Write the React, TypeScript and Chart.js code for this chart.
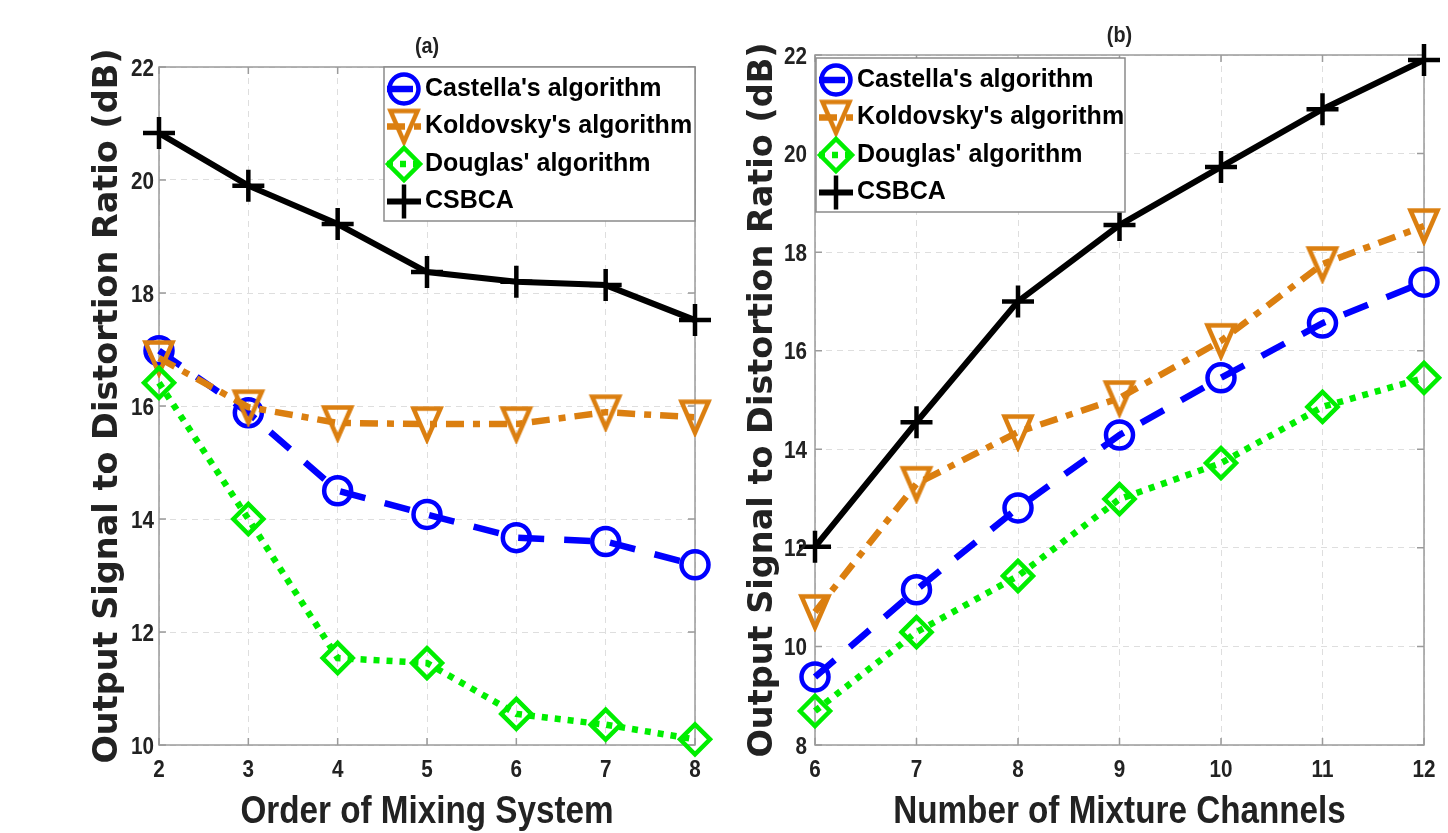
import React, { useEffect, useRef } from 'react';
import { Chart, registerables } from 'chart.js';
import { drawPoint } from 'chart.js/helpers';

Chart.register(...registerables);

// ---------- data ----------
const xTicksA = [2, 3, 4, 5, 6, 7, 8];
const castellaA = [16.98, 15.88, 14.5, 14.08, 13.67, 13.6, 13.19];
const koldovskyA = [16.85, 15.98, 15.7, 15.68, 15.68, 15.89, 15.8];
const douglasA = [16.41, 14.0, 11.54, 11.45, 10.55, 10.36, 10.1];
const csbcaA = [20.83, 19.9, 19.22, 18.37, 18.2, 18.14, 17.52];

const xTicksB = [6, 7, 8, 9, 10, 11, 12];
const castellaB = [9.38, 11.15, 12.81, 14.29, 15.45, 16.56, 17.39];
const koldovskyB = [10.7, 13.3, 14.35, 15.04, 16.2, 17.76, 18.53];
const douglasB = [8.69, 10.29, 11.43, 12.99, 13.72, 14.86, 15.45];
const csbcaB = [12.02, 14.55, 17.0, 18.55, 19.73, 20.9, 21.9];

const seriesNames = ["Castella's algorithm", "Koldovsky's algorithm", "Douglas' algorithm", 'CSBCA'];
const yTitle = 'Output Signal to Distortion Ratio (dB)';
const xTitleA = 'Order of Mixing System';
const xTitleB = 'Number of Mixture Channels';

// ---------- styles ----------
const BLUE = '#0000ff';
const ORANGE = '#db7f10';
const GREEN = '#00ee00';
const BLACK = '#000000';
const SANS = "'Liberation Sans', Arial, sans-serif";
const WIDE = "'DejaVu Sans', 'Liberation Sans', sans-serif";
const TEXT = '#222222';

// MATLAB-like downward triangle marker (taller than wide)
function makeTriangle(w: number, h: number, lw: number, color: string) {
  const c = document.createElement('canvas');
  c.width = Math.ceil(w + lw * 2);
  c.height = Math.ceil(h + lw * 2);
  const g = c.getContext('2d') as CanvasRenderingContext2D;
  const cx = c.width / 2;
  const top = (c.height - h) / 2;
  g.strokeStyle = color;
  g.lineWidth = lw;
  g.lineJoin = 'miter';
  g.beginPath();
  g.moveTo(cx - w / 2, top);
  g.lineTo(cx + w / 2, top);
  g.lineTo(cx, top + h);
  g.closePath();
  g.stroke();
  return c;
}

function narrowText(ctx: any, text: string, x: number, y: number, size: number, sx: number, align: string, baseline: string) {
  ctx.save();
  ctx.translate(x, y);
  ctx.scale(sx, 1);
  ctx.font = `bold ${size}px ${SANS}`;
  ctx.textAlign = align;
  ctx.textBaseline = baseline;
  ctx.fillText(text, 0, 0);
  ctx.restore();
}

const framePlugin = {
  id: 'frame',
  beforeDatasetsDraw(chart: any) {
    const { ctx, chartArea: a } = chart;
    ctx.save();
    ctx.setLineDash([]);
    ctx.strokeStyle = '#9b9b9b';
    ctx.lineWidth = 1.5;
    ctx.strokeRect(a.left, a.top, a.right - a.left, a.bottom - a.top);
    const xs = chart.scales.x;
    const ys = chart.scales.y;
    ctx.beginPath();
    for (let i = 0; i < xs.ticks.length; i++) {
      const px = xs.getPixelForTick(i);
      ctx.moveTo(px, a.bottom); ctx.lineTo(px, a.bottom - 7);
      ctx.moveTo(px, a.top); ctx.lineTo(px, a.top + 7);
    }
    for (let i = 0; i < ys.ticks.length; i++) {
      const py = ys.getPixelForTick(i);
      ctx.moveTo(a.left, py); ctx.lineTo(a.left + 7, py);
      ctx.moveTo(a.right, py); ctx.lineTo(a.right - 7, py);
    }
    ctx.stroke();
    ctx.restore();
  },
  afterDraw(chart: any, _args: any, opts: any) {
    const { ctx, chartArea: a } = chart;
    const xs = chart.scales.x;
    const ys = chart.scales.y;
    ctx.save();
    ctx.fillStyle = TEXT;
    for (let i = 0; i < xs.ticks.length; i++) {
      const px = xs.getPixelForTick(i);
      narrowText(ctx, String(xs.getLabelForValue(xs.ticks[i].value)), px, a.bottom + 32, 24, 0.86, 'center', 'alphabetic');
    }
    for (let i = 0; i < ys.ticks.length; i++) {
      const py = ys.getPixelForTick(i);
      narrowText(ctx, String(ys.ticks[i].value), a.left - opts.yTickPad, py + 8.5, 24, 0.86, 'right', 'alphabetic');
    }
    narrowText(ctx, opts.xTitle, (a.left + a.right) / 2, 823, 38, 0.875, 'center', 'alphabetic');
    narrowText(ctx, opts.title, (a.left + a.right) / 2, a.top - opts.titleOffset, 22, 0.9, 'center', 'middle');

    const L = opts.legend;
    ctx.fillStyle = '#ffffff';
    ctx.fillRect(L.left, L.top, L.width, L.height);
    ctx.strokeStyle = '#8a8a8a';
    ctx.lineWidth = 1.5;
    ctx.setLineDash([]);
    ctx.strokeRect(L.left, L.top, L.width, L.height);
    chart.data.datasets.forEach((ds: any, i: number) => {
      const cy = L.top + 22 + i * 37.5;
      const cx = L.left + 20;
      ctx.strokeStyle = ds.borderColor;
      ctx.lineWidth = ds.borderWidth;
      ctx.setLineDash(ds.borderDash || []);
      ctx.beginPath();
      ctx.moveTo(cx - 17, cy);
      ctx.lineTo(cx + 17, cy);
      ctx.stroke();
      ctx.setLineDash([]);
      ctx.lineWidth = ds.pointBorderWidth;
      ctx.strokeStyle = ds.pointBorderColor;
      ctx.fillStyle = 'rgba(0,0,0,0)';
      drawPoint(ctx, {
        pointStyle: ds.pointStyle,
        rotation: 0,
        radius: ds.pointRadius + 1,
        borderWidth: ds.pointBorderWidth,
      } as any, cx, cy);
      ctx.fillStyle = '#000';
      ctx.font = `bold 25px ${SANS}`;
      ctx.textAlign = 'left';
      ctx.textBaseline = 'middle';
      ctx.fillText(ds.label, L.left + 41, cy);
    });
    ctx.restore();
  },
};

function makeDatasets(c: number[], k: number[], d: number[], s: number[]) {
  const common = { backgroundColor: 'rgba(0,0,0,0)', pointBackgroundColor: 'rgba(0,0,0,0)', clip: false as any, tension: 0, fill: false };
  const tri = makeTriangle(27, 31, 4.5, ORANGE);
  return [
    { ...common, label: seriesNames[0], data: c, borderColor: BLUE, pointBorderColor: BLUE, borderWidth: 6.5, borderDash: [26, 20], pointStyle: 'circle', pointRadius: 13.5, pointBorderWidth: 4.5, order: 4 },
    { ...common, label: seriesNames[1], data: k, borderColor: ORANGE, pointBorderColor: ORANGE, borderWidth: 6.5, borderDash: [18, 9, 7, 9], pointStyle: tri, pointRadius: 16, pointBorderWidth: 4.5, order: 3 },
    { ...common, label: seriesNames[2], data: d, borderColor: GREEN, pointBorderColor: GREEN, borderWidth: 6.5, borderDash: [6, 7], pointStyle: 'rectRot', pointRadius: 15, pointBorderWidth: 4.5, order: 2 },
    { ...common, label: seriesNames[3], data: s, borderColor: BLACK, pointBorderColor: BLACK, borderWidth: 6, borderDash: [], pointStyle: 'cross', pointRadius: 16, pointBorderWidth: 4.5, order: 1 },
  ];
}

function makeConfig(p: any) {
  const grid = { color: '#dedede', lineWidth: 1, drawTicks: false };
  const border = { display: false, dash: [6, 5] };
  return {
    type: 'line' as const,
    data: { labels: p.labels.map(String), datasets: p.datasets },
    plugins: [framePlugin],
    options: {
      animation: false as const,
      responsive: false,
      layout: { padding: { left: 0, top: p.top, right: p.right, bottom: 0 } },
      plugins: {
        legend: { display: false },
        tooltip: { enabled: false },
        frame: { title: p.title, titleOffset: p.titleOffset, legend: p.legend, xTitle: p.xTitle, yTickPad: p.yTickPad },
      },
      scales: {
        x: {
          type: 'category' as const,
          grid, border,
          ticks: { display: false, autoSkip: false },
          title: { display: false },
          afterFit(s: any) { s.height = 88; s.paddingLeft = 0; s.paddingRight = 0; },
        },
        y: {
          type: 'linear' as const,
          min: p.yMin, max: p.yMax,
          grid, border,
          ticks: { display: false, stepSize: 2 },
          title: { display: true, text: yTitle, color: TEXT, font: { family: WIDE, size: 33.5, weight: 'bold' as const }, padding: { top: p.yTitlePad, bottom: 0 } },
          afterFit(s: any) { s.width = p.yWidth; s.paddingTop = 0; s.paddingBottom = 0; },
        },
      },
    },
  };
}

function ChartCanvas({ config, left }: { config: any; left: number }) {
  const ref = useRef<HTMLCanvasElement>(null);
  useEffect(() => {
    const chart = new Chart(ref.current as HTMLCanvasElement, config);
    return () => chart.destroy();
  }, []);
  return (
    <canvas
      ref={ref}
      width={724}
      height={833}
      style={{ position: 'absolute', left, top: 0, width: 724, height: 833 }}
    />
  );
}

export default function App() {
  const configA = makeConfig({
    labels: xTicksA,
    datasets: makeDatasets(castellaA, koldovskyA, douglasA, csbcaA),
    yMin: 10, yMax: 22, top: 67, right: 29, yWidth: 159, yTitlePad: 88, yTickPad: 5,
    title: '(a)', titleOffset: 20, xTitle: xTitleA,
    legend: { left: 384, top: 67, width: 311, height: 154 },
  });
  const configB = makeConfig({
    labels: xTicksB,
    datasets: makeDatasets(castellaB, koldovskyB, douglasB, csbcaB),
    yMin: 8, yMax: 22, top: 55, right: 24, yWidth: 91, yTitlePad: 19, yTickPad: 8,
    title: '(b)', titleOffset: 19, xTitle: xTitleB,
    legend: { left: 92, top: 58, width: 309, height: 154 },
  });
  return (
    <div style={{ position: 'fixed', left: 0, top: 0, width: 1448, height: 833, background: '#fff', overflow: 'hidden' }}>
      <ChartCanvas config={configA} left={0} />
      <ChartCanvas config={configB} left={724} />
    </div>
  );
}
